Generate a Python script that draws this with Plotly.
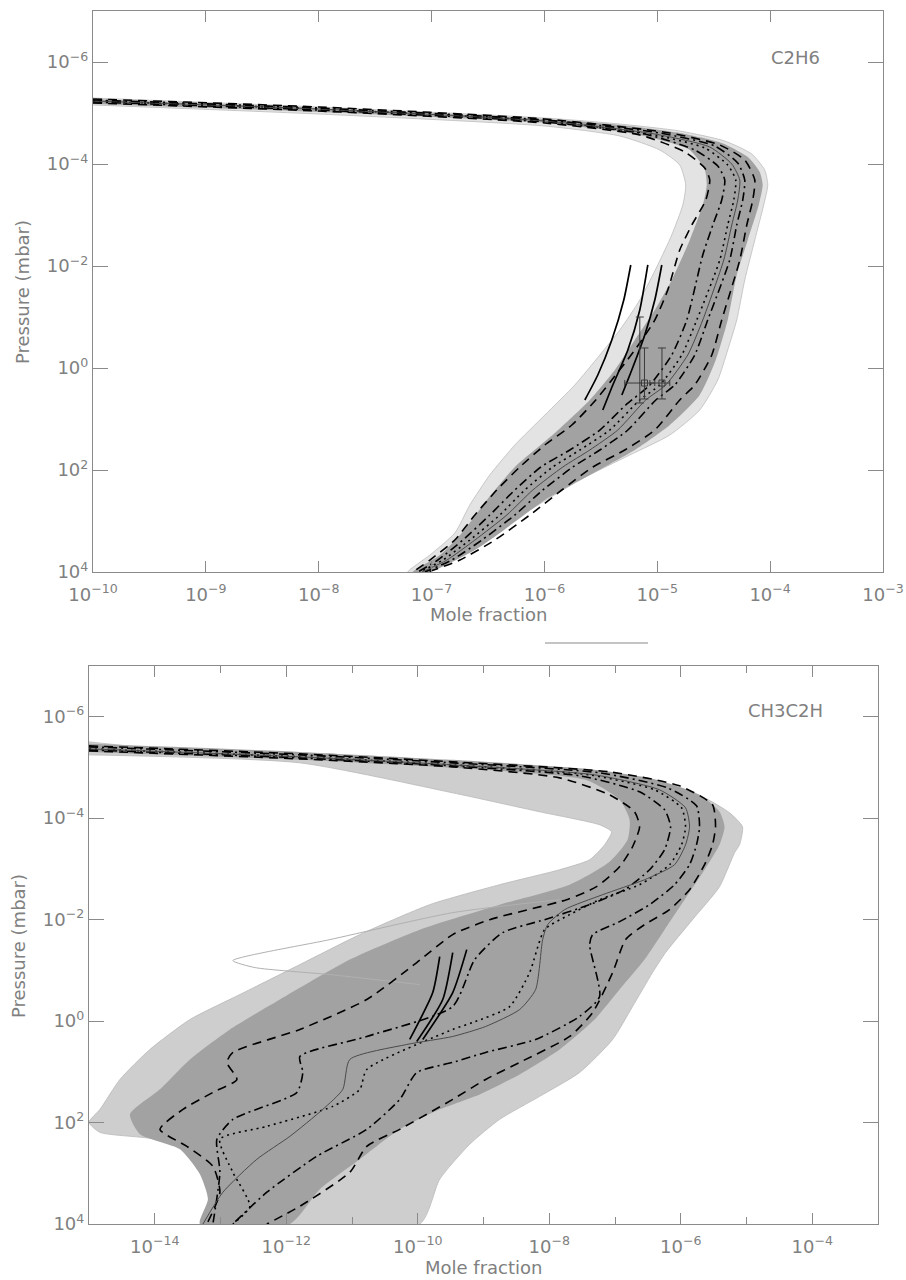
import plotly.graph_objects as go

# ===================== C2H6 panel (log10 values) =====================
# envelope of the Monte-Carlo runs (outer light fringe) and the dense core
C2H6_OUTER_LOGX = [-10.0, -8.0, -5.996, -5.332, -4.801, -4.402, -4.163, -4.048, -4.021, -4.057, -4.136, -4.225,
                   -4.296, -4.376, -4.464, -4.624, -4.889, -5.244, -5.686, -6.129, -6.484, -6.811, -7.059]
C2H6_OUTER_LOGP = [-5.294, -5.118, -4.902, -4.784, -4.647, -4.451, -4.196, -3.882, -3.588, -3.196, -2.510, -1.725,
                   -0.941, -0.353, 0.235, 0.824, 1.314, 1.706, 2.196, 2.784, 3.275, 3.706, 4.0]
C2H6_INNER_LOGX = [-10.0, -8.0, -5.996, -5.332, -4.978, -4.801, -4.748, -4.774, -4.872, -4.996, -5.155, -5.332,
                   -5.509, -5.731, -5.996, -6.262, -6.484, -6.661, -6.794, -7.015, -7.210]
C2H6_INNER_LOGP = [-5.157, -4.980, -4.745, -4.549, -4.275, -3.980, -3.588, -3.196, -2.608, -2.020, -1.333, -0.745,
                   -0.255, 0.333, 0.922, 1.510, 2.098, 2.686, 3.235, 3.667, 4.0]
C2H6_CORE_R_LOGX = [-10.0, -8.0, -5.996, -5.332, -4.801, -4.429, -4.198, -4.092, -4.066, -4.101, -4.198, -4.296,
                    -4.376, -4.482, -4.624, -4.889, -5.199, -5.598, -5.996, -6.395, -6.616, -7.015]
C2H6_CORE_R_LOGP = [-5.275, -5.098, -4.882, -4.765, -4.608, -4.412, -4.137, -3.843, -3.588, -3.196, -2.510, -1.824,
                    -0.941, -0.157, 0.529, 1.118, 1.608, 2.098, 2.588, 3.235, 3.569, 4.0]
C2H6_CORE_L_LOGX = [-10.0, -8.0, -5.996, -5.155, -4.712, -4.579, -4.562, -4.597, -4.712, -4.872, -5.022, -5.199,
                    -5.376, -5.598, -5.908, -6.262, -6.510, -6.732, -6.926, -7.166]
C2H6_CORE_L_LOGP = [-5.176, -5.020, -4.804, -4.569, -4.275, -3.882, -3.588, -3.196, -2.510, -1.725, -1.137, -0.549,
                    0.039, 0.627, 1.275, 1.941, 2.588, 3.235, 3.667, 4.0]

# statistical profiles
C2H6_DASH_LO_LOGX = [-10.0, -8.0, -5.996, -5.155, -4.756, -4.579, -4.535, -4.570, -4.694, -4.801, -4.907, -5.022,
                     -5.199, -5.403, -5.545, -5.757, -5.996, -6.218, -6.422, -6.616, -6.794, -7.015, -7.166]
C2H6_DASH_LO_LOGP = [-5.196, -5.039, -4.804, -4.569, -4.235, -3.922, -3.686, -3.294, -2.804, -2.314, -1.529, -0.941,
                     -0.353, 0.235, 0.627, 1.118, 1.510, 1.941, 2.392, 2.882, 3.373, 3.765, 4.0]
C2H6_DDOT_LO_LOGX = [-10.0, -8.0, -5.996, -5.111, -4.668, -4.464, -4.402, -4.429, -4.508, -4.597, -4.739, -4.872,
                     -5.066, -5.279, -5.509, -5.775, -6.032, -6.262, -6.484, -6.723, -6.944, -7.121]
C2H6_DDOT_LO_LOGP = [-5.216, -5.059, -4.824, -4.588, -4.275, -3.961, -3.686, -3.294, -2.804, -2.216, -0.941, -0.255,
                     0.333, 0.725, 1.216, 1.608, 1.941, 2.392, 2.882, 3.373, 3.765, 4.0]
C2H6_MEAN_LOGX = [-10.0, -8.0, -5.996, -5.066, -4.579, -4.376, -4.305, -4.322, -4.376, -4.446, -4.650, -4.783,
                  -4.978, -5.155, -5.421, -5.686, -5.926, -6.174, -6.395, -6.661, -6.900, -7.104]
C2H6_MEAN_LOGP = [-5.235, -5.078, -4.843, -4.588, -4.314, -3.980, -3.686, -3.294, -2.804, -2.118, -0.941, -0.255,
                  0.333, 0.627, 1.216, 1.608, 1.941, 2.392, 2.882, 3.373, 3.765, 4.0]
C2H6_MED_LOGX = [-10.0, -8.0, -5.996, -5.022, -4.535, -4.340, -4.269, -4.287, -4.340, -4.411, -4.597, -4.730,
                 -4.925, -5.102, -5.350, -5.598, -5.837, -6.103, -6.333, -6.616, -6.864, -7.086]
C2H6_MED_LOGP = [-5.235, -5.078, -4.843, -4.588, -4.333, -4.000, -3.686, -3.294, -2.804, -2.118, -0.941, -0.255,
                 0.333, 0.627, 1.216, 1.608, 1.941, 2.392, 2.882, 3.373, 3.765, 4.0]
C2H6_DDOT_HI_LOGX = [-10.0, -8.0, -5.996, -4.978, -4.491, -4.287, -4.225, -4.243, -4.296, -4.358, -4.553, -4.668,
                     -4.845, -5.013, -5.261, -5.509, -5.748, -6.014, -6.262, -6.554, -6.820, -7.059]
C2H6_DDOT_HI_LOGP = [-5.255, -5.098, -4.863, -4.608, -4.353, -4.020, -3.686, -3.294, -2.804, -2.118, -0.941, -0.255,
                     0.333, 0.627, 1.216, 1.608, 1.941, 2.392, 2.882, 3.373, 3.765, 4.0]
C2H6_DASH_HI_LOGX = [-10.0, -8.0, -5.996, -4.889, -4.446, -4.225, -4.136, -4.154, -4.207, -4.269, -4.429, -4.517,
                     -4.668, -4.801, -5.022, -5.288, -5.571, -5.846, -6.129, -6.439, -6.749, -7.033]
C2H6_DASH_HI_LOGP = [-5.275, -5.118, -4.882, -4.608, -4.373, -4.078, -3.686, -3.294, -2.804, -2.118, -0.941, -0.255,
                     0.333, 0.627, 1.216, 1.608, 1.941, 2.392, 2.882, 3.373, 3.765, 4.0]

# retrieved profiles (black) and data points with error bars
C2H6_RET_A_LOGX = [-5.235, -5.297, -5.403, -5.527, -5.642]
C2H6_RET_A_LOGP = [-2.020, -1.333, -0.549, 0.137, 0.627]
C2H6_RET_B_LOGX = [-5.084, -5.155, -5.261, -5.394, -5.483]
C2H6_RET_B_LOGP = [-2.020, -1.137, -0.353, 0.333, 0.824]
C2H6_RET_C_LOGX = [-4.960, -5.022, -5.111, -5.226, -5.314]
C2H6_RET_C_LOGP = [-2.020, -1.333, -0.647, 0.039, 0.529]
# points with horizontal and vertical error bars
C2H6_OBS_X = [7.7e-6, 1.1e-5]
C2H6_OBS_P = [1.97, 1.97]
C2H6_OBS_XLO = [5.15e-6, 8.6e-6]
C2H6_OBS_XHI = [9.5e-6, 1.29e-5]
C2H6_OBS_PLO = [0.405, 0.405]
C2H6_OBS_PHI = [4.05, 4.05]
# point with a vertical range only
C2H6_RANGE_X = [7.0e-6]
C2H6_RANGE_P = [1.97]
C2H6_RANGE_PLO = [0.1]
C2H6_RANGE_PHI = [4.85]

# ===================== CH3C2H panel =====================
CH3C2H_OUTER_LOGX = [-15.0, -14.073, -11.793, -9.468, -7.447, -6.429, -5.669, -5.258, -5.061, -5.106, -5.182, -5.410,
                     -5.821, -6.231, -6.429, -6.733, -7.036, -7.538, -8.146, -8.754, -9.210, -9.666, -9.970]
CH3C2H_OUTER_LOGP = [-5.504, -5.386, -5.248, -5.110, -4.933, -4.736, -4.421, -4.106, -3.831, -3.476, -3.319, -2.650,
                     -2.000, -1.350, -0.957, -0.287, 0.362, 1.012, 1.484, 1.937, 2.429, 3.118, 4.0]
CH3C2H_INNER_LOGX = [-15.0, -11.793, -9.468, -8.146, -7.234, -7.052, -7.158, -7.386, -7.842, -8.754, -9.818, -10.881,
                     -11.793, -12.705, -13.465, -14.073, -14.529, -14.833, -15.0, -14.833, -13.967, -13.465, -13.207,
                     -13.085, -13.237]
CH3C2H_INNER_LOGP = [-5.248, -5.091, -4.500, -4.126, -3.870, -3.732, -3.476, -3.181, -2.984, -2.689, -2.295, -1.705,
                     -1.114, -0.524, -0.031, 0.559, 1.150, 1.740, 1.996, 2.193, 2.331, 2.587, 3.059, 3.512, 4.0]
CH3C2H_CORE_R_LOGX = [-15.0, -11.793, -9.468, -7.447, -6.429, -5.714, -5.410, -5.334, -5.410, -5.638, -5.942, -6.246,
                      -6.550, -6.930, -7.310, -7.842, -8.450, -9.058, -9.666, -10.274, -10.881, -11.489, -11.945]
CH3C2H_CORE_R_LOGP = [-5.465, -5.307, -5.150, -4.972, -4.776, -4.461, -4.126, -3.831, -3.476, -2.984, -2.394, -1.803,
                      -1.213, -0.622, -0.031, 0.559, 1.051, 1.445, 1.740, 2.134, 2.724, 3.315, 4.0]
CH3C2H_CORE_L_LOGX = [-15.0, -11.793, -9.468, -7.447, -6.930, -6.778, -6.809, -7.082, -7.690, -8.754, -9.970, -11.033,
                      -12.097, -12.857, -13.465, -13.921, -14.377, -14.225, -13.617, -13.313, -13.191, -13.313]
CH3C2H_CORE_L_LOGP = [-5.307, -5.150, -4.992, -4.756, -4.362, -3.969, -3.575, -3.142, -2.689, -2.295, -1.803, -1.213,
                      -0.425, 0.165, 0.756, 1.346, 1.839, 2.232, 2.528, 3.020, 3.512, 4.0]

CH3C2H_DASH_LO_LOGX = [-15.0, -11.793, -9.468, -7.842, -7.082, -6.702, -6.626, -6.733, -6.930, -7.280, -7.736, -8.906,
                       -9.468, -10.015, -10.775, -11.793, -12.812, -12.903, -12.751, -13.116, -13.571, -13.921,
                       -13.511, -13.116, -13.009, -13.207]
CH3C2H_DASH_LO_LOGP = [-5.327, -5.169, -5.012, -4.795, -4.461, -4.126, -3.831, -3.437, -3.043, -2.650, -2.394, -2.000,
                       -1.705, -1.154, -0.425, 0.165, 0.618, 0.815, 1.150, 1.406, 1.740, 2.134, 2.469, 2.862, 3.374, 4.0]
CH3C2H_DDOT_LO_LOGX = [-15.0, -11.793, -9.468, -7.538, -6.626, -6.246, -6.155, -6.246, -6.474, -6.854, -7.386, -8.070,
                       -8.708, -9.134, -9.468, -10.775, -11.793, -11.748, -11.839, -12.812, -13.055, -13.009, -13.116]
CH3C2H_DDOT_LO_LOGP = [-5.346, -5.189, -5.031, -4.835, -4.520, -4.165, -3.831, -3.378, -2.984, -2.591, -2.295, -2.000,
                       -1.744, -1.213, -0.287, 0.303, 0.697, 1.012, 1.406, 1.937, 2.331, 2.980, 4.0]
CH3C2H_MEAN_LOGX = [-15.0, -11.793, -9.468, -7.386, -6.398, -5.988, -5.927, -5.988, -6.170, -6.626, -7.234, -7.690,
                    -8.070, -8.298, -8.602, -9.164, -9.468, -10.775, -10.881, -11.292, -12.295, -13.009, -12.812,
                    -12.553, -12.812]
CH3C2H_MEAN_LOGP = [-5.366, -5.209, -5.051, -4.854, -4.559, -4.205, -3.831, -3.476, -3.083, -2.689, -2.394, -2.098,
                    -1.803, -0.957, -0.287, 0.028, 0.165, 0.953, 1.346, 1.681, 2.075, 2.331, 2.980, 3.650, 4.0]
CH3C2H_MED_LOGX = [-15.0, -11.793, -9.468, -7.310, -6.322, -5.927, -5.866, -5.927, -6.094, -6.550, -7.188, -7.766,
                   -8.024, -8.100, -8.207, -8.450, -8.967, -9.468, -10.167, -11.033, -11.140, -11.444, -11.945,
                   -12.447, -12.964, -13.267]
CH3C2H_MED_LOGP = [-5.366, -5.209, -5.051, -4.854, -4.559, -4.205, -3.831, -3.476, -3.083, -2.787, -2.492, -2.197,
                   -1.902, -1.606, -0.622, -0.228, 0.106, 0.303, 0.461, 0.756, 1.346, 1.740, 2.272, 2.724, 3.374, 4.0]
CH3C2H_DDOT_HI_LOGX = [-15.0, -11.793, -9.468, -7.234, -6.201, -5.760, -5.714, -5.760, -5.866, -6.094, -6.474, -6.930,
                       -7.340, -7.386, -7.234, -7.538, -8.207, -8.967, -9.468, -10.015, -10.274, -10.775, -11.535,
                       -12.295, -12.812]
CH3C2H_DDOT_HI_LOGP = [-5.406, -5.248, -5.091, -4.894, -4.598, -4.244, -3.831, -3.476, -3.083, -2.689, -2.295, -1.961,
                       -1.705, -1.508, -0.484, -0.091, 0.362, 0.618, 0.815, 1.012, 1.543, 2.134, 2.665, 3.374, 4.0]
CH3C2H_DASH_HI_LOGX = [-15.0, -11.793, -9.468, -7.082, -6.018, -5.517, -5.471, -5.517, -5.638, -5.866, -6.170, -6.550,
                       -6.839, -7.036, -7.340, -7.690, -8.450, -8.967, -9.468, -10.274, -10.775, -11.033, -11.793,
                       -12.295]
CH3C2H_DASH_HI_LOGP = [-5.425, -5.268, -5.110, -4.913, -4.638, -4.264, -3.831, -3.476, -3.083, -2.591, -2.197, -1.902,
                       -1.606, -0.957, -0.169, 0.303, 0.815, 1.150, 1.543, 2.134, 2.469, 2.980, 3.650, 4.0]
CH3C2H_OUTLIER_LOGX = [-7.842, -9.468, -11.337, -12.812, -12.477, -11.337, -9.970]
CH3C2H_OUTLIER_LOGP = [-2.394, -2.138, -1.606, -1.193, -1.055, -0.917, -0.720]

CH3C2H_RET_A_LOGX = [-9.666, -9.772, -10.122]
CH3C2H_RET_A_LOGP = [-1.272, -0.563, 0.362]
CH3C2H_RET_B_LOGX = [-9.468, -9.620, -10.015]
CH3C2H_RET_B_LOGP = [-1.350, -0.425, 0.402]
CH3C2H_RET_C_LOGX = [-9.255, -9.468, -9.924]
CH3C2H_RET_C_LOGP = [-1.409, -0.563, 0.362]

# tick labels
C2H6_XTICKS = [1e-10, 1e-9, 1e-8, 1e-7, 1e-6, 1e-5, 1e-4, 1e-3]
C2H6_XTEXT = ["10<sup>−10</sup>", "10<sup>−9</sup>", "10<sup>−8</sup>", "10<sup>−7</sup>",
              "10<sup>−6</sup>", "10<sup>−5</sup>", "10<sup>−4</sup>", "10<sup>−3</sup>"]
CH3C2H_XTICKS = [1e-14, 1e-12, 1e-10, 1e-8, 1e-6, 1e-4]
CH3C2H_XTEXT = ["10<sup>−14</sup>", "10<sup>−12</sup>", "10<sup>−10</sup>", "10<sup>−8</sup>",
                "10<sup>−6</sup>", "10<sup>−4</sup>"]
CH3C2H_XMINOR = [1e-13, 1e-11, 1e-9, 1e-7, 1e-5]
P_TICKS = [1e-6, 1e-4, 1e-2, 1e0, 1e2, 1e4]
P_TEXT = ["10<sup>−6</sup>", "10<sup>−4</sup>", "10<sup>−2</sup>", "10<sup>0</sup>", "10<sup>2</sup>", "10<sup>4</sup>"]


def lin(a):
    return [10.0 ** v for v in a]


W, H = 906, 1280
GRAY_TXT = "#808080"
FONT = "DejaVu Sans"
SMOOTH = 0.6

fig = go.Figure()


def band(xo, po, xi, pi, color, ax, outline=None):
    xs = lin(xo) + lin(xi)[::-1]
    ps = lin(po) + lin(pi)[::-1]
    fig.add_trace(go.Scatter(x=xs, y=ps, mode="lines", fill="toself", fillcolor=color,
                             line=dict(color=outline or color, width=0.8 if outline else 0, shape="spline",
                                       smoothing=SMOOTH),
                             xaxis=ax[0], yaxis=ax[1], hoverinfo="skip", showlegend=False))


def prof(x, p, ax, dash="solid", color="black", width=1.6):
    fig.add_trace(go.Scatter(x=lin(x), y=lin(p), mode="lines",
                             line=dict(color=color, width=width, dash=dash, shape="spline", smoothing=SMOOTH),
                             xaxis=ax[0], yaxis=ax[1], hoverinfo="skip", showlegend=False))


DASH = "9px,6px"
DDOT = "9px,4px,2px,4px"
DOT = "2px,4px"

# ---- top panel ----
A1 = ("x", "y")
band(C2H6_OUTER_LOGX, C2H6_OUTER_LOGP, C2H6_INNER_LOGX, C2H6_INNER_LOGP, "#e3e3e3", A1, outline="#bdbdbd")
band(C2H6_CORE_R_LOGX, C2H6_CORE_R_LOGP, C2H6_CORE_L_LOGX, C2H6_CORE_L_LOGP, "#a2a2a2", A1)
prof(C2H6_DASH_LO_LOGX, C2H6_DASH_LO_LOGP, A1, DASH)
prof(C2H6_DDOT_LO_LOGX, C2H6_DDOT_LO_LOGP, A1, DDOT)
prof(C2H6_MEAN_LOGX, C2H6_MEAN_LOGP, A1, DOT)
prof(C2H6_MED_LOGX, C2H6_MED_LOGP, A1, "solid", "#4a4a4a", 1.0)
prof(C2H6_DDOT_HI_LOGX, C2H6_DDOT_HI_LOGP, A1, DDOT)
prof(C2H6_DASH_HI_LOGX, C2H6_DASH_HI_LOGP, A1, DASH)
for rx, rp in [(C2H6_RET_A_LOGX, C2H6_RET_A_LOGP), (C2H6_RET_B_LOGX, C2H6_RET_B_LOGP),
               (C2H6_RET_C_LOGX, C2H6_RET_C_LOGP)]:
    prof(rx, rp, A1, "solid", "black", 1.7)
ERRC = "#3a3a3a"
fig.add_trace(go.Scatter(
    x=C2H6_OBS_X, y=C2H6_OBS_P, mode="markers",
    marker=dict(symbol="square-open", size=6, color=ERRC, line=dict(width=1)),
    error_x=dict(type="data", symmetric=False,
                 array=[h - v for h, v in zip(C2H6_OBS_XHI, C2H6_OBS_X)],
                 arrayminus=[v - l for l, v in zip(C2H6_OBS_XLO, C2H6_OBS_X)],
                 color=ERRC, thickness=1, width=3),
    error_y=dict(type="data", symmetric=False,
                 array=[h - v for h, v in zip(C2H6_OBS_PHI, C2H6_OBS_P)],
                 arrayminus=[v - l for l, v in zip(C2H6_OBS_PLO, C2H6_OBS_P)],
                 color=ERRC, thickness=1, width=4),
    xaxis="x", yaxis="y", hoverinfo="skip", showlegend=False))
fig.add_trace(go.Scatter(
    x=C2H6_RANGE_X, y=C2H6_RANGE_P, mode="markers", marker=dict(size=1, color=ERRC),
    error_y=dict(type="data", symmetric=False,
                 array=[h - v for h, v in zip(C2H6_RANGE_PHI, C2H6_RANGE_P)],
                 arrayminus=[v - l for l, v in zip(C2H6_RANGE_PLO, C2H6_RANGE_P)],
                 color=ERRC, thickness=1, width=4),
    xaxis="x", yaxis="y", hoverinfo="skip", showlegend=False))

# ---- bottom panel ----
A2 = ("x2", "y2")
band(CH3C2H_OUTER_LOGX, CH3C2H_OUTER_LOGP, CH3C2H_INNER_LOGX, CH3C2H_INNER_LOGP, "#cecece", A2, outline="#b8b8b8")
band(CH3C2H_CORE_R_LOGX, CH3C2H_CORE_R_LOGP, CH3C2H_CORE_L_LOGX, CH3C2H_CORE_L_LOGP, "#a2a2a2", A2)
prof(CH3C2H_OUTLIER_LOGX, CH3C2H_OUTLIER_LOGP, A2, "solid", "#b0b0b0", 1.0)
prof(CH3C2H_DASH_LO_LOGX, CH3C2H_DASH_LO_LOGP, A2, DASH)
prof(CH3C2H_DDOT_LO_LOGX, CH3C2H_DDOT_LO_LOGP, A2, DDOT)
prof(CH3C2H_MEAN_LOGX, CH3C2H_MEAN_LOGP, A2, DOT)
prof(CH3C2H_MED_LOGX, CH3C2H_MED_LOGP, A2, "solid", "#4a4a4a", 1.0)
prof(CH3C2H_DDOT_HI_LOGX, CH3C2H_DDOT_HI_LOGP, A2, DDOT)
prof(CH3C2H_DASH_HI_LOGX, CH3C2H_DASH_HI_LOGP, A2, DASH)
for rx, rp in [(CH3C2H_RET_A_LOGX, CH3C2H_RET_A_LOGP), (CH3C2H_RET_B_LOGX, CH3C2H_RET_B_LOGP),
               (CH3C2H_RET_C_LOGX, CH3C2H_RET_C_LOGP)]:
    prof(rx, rp, A2, "solid", "black", 1.7)

axis_common = dict(type="log", showgrid=False, zeroline=False, showline=True, linecolor="#8a8a8a",
                   linewidth=1.2, mirror="allticks", ticks="inside", tickcolor="#8a8a8a", tickwidth=1.2,
                   automargin=False, tickfont=dict(family=FONT, size=18, color=GRAY_TXT))

fig.update_layout(
    width=W, height=H, margin=dict(l=0, r=0, t=0, b=0, autoexpand=False),
    paper_bgcolor="white", plot_bgcolor="white", showlegend=False,
    xaxis=dict(axis_common, domain=[93 / W, 883 / W], range=[-10, -3], anchor="y",
               tickmode="array", tickvals=C2H6_XTICKS, ticktext=C2H6_XTEXT, ticklen=11,
               ticklabelstandoff=6),
    yaxis=dict(axis_common, domain=[1 - 572 / H, 1 - 11 / H], range=[4, -7], anchor="x",
               tickmode="array", tickvals=P_TICKS, ticktext=P_TEXT, ticklen=15),
    xaxis2=dict(axis_common, domain=[89 / W, 878 / W], range=[-15, -3], anchor="y2",
                tickmode="array", tickvals=CH3C2H_XTICKS, ticktext=CH3C2H_XTEXT, ticklen=11,
                ticklabelstandoff=6,
                minor=dict(tickmode="array", tickvals=CH3C2H_XMINOR, ticks="inside", ticklen=7,
                           tickcolor="#8a8a8a", tickwidth=1.2)),
    yaxis2=dict(axis_common, domain=[1 - 1224 / H, 1 - 666 / H], range=[4, -7], anchor="x2",
                tickmode="array", tickvals=P_TICKS, ticktext=P_TEXT, ticklen=15),
)

txt = dict(family=FONT, size=18, color=GRAY_TXT)
fig.add_annotation(text="Mole fraction", x=488 / W, y=1 - 614 / H, xref="paper", yref="paper",
                   showarrow=False, font=txt, xanchor="center", yanchor="middle")
fig.add_annotation(text="Mole fraction", x=484 / W, y=1 - 1267 / H, xref="paper", yref="paper",
                   showarrow=False, font=txt, xanchor="center", yanchor="middle")
fig.add_annotation(text="Pressure (mbar)", x=22 / W, y=1 - 292 / H, xref="paper", yref="paper",
                   showarrow=False, font=txt, textangle=-90, xanchor="center", yanchor="middle")
fig.add_annotation(text="Pressure (mbar)", x=18 / W, y=1 - 946 / H, xref="paper", yref="paper",
                   showarrow=False, font=txt, textangle=-90, xanchor="center", yanchor="middle")
fig.add_annotation(text="C2H6", x=795 / W, y=1 - 57 / H, xref="paper", yref="paper",
                   showarrow=False, font=txt, xanchor="center", yanchor="middle")
fig.add_annotation(text="CH3C2H", x=785 / W, y=1 - 710 / H, xref="paper", yref="paper",
                   showarrow=False, font=txt, xanchor="center", yanchor="middle")
fig.add_shape(type="line", xref="paper", yref="paper", x0=545 / W, x1=648 / W, y0=1 - 643 / H, y1=1 - 643 / H,
              line=dict(color="#b0b0b0", width=1.5))

fig.write_html("out.html")
